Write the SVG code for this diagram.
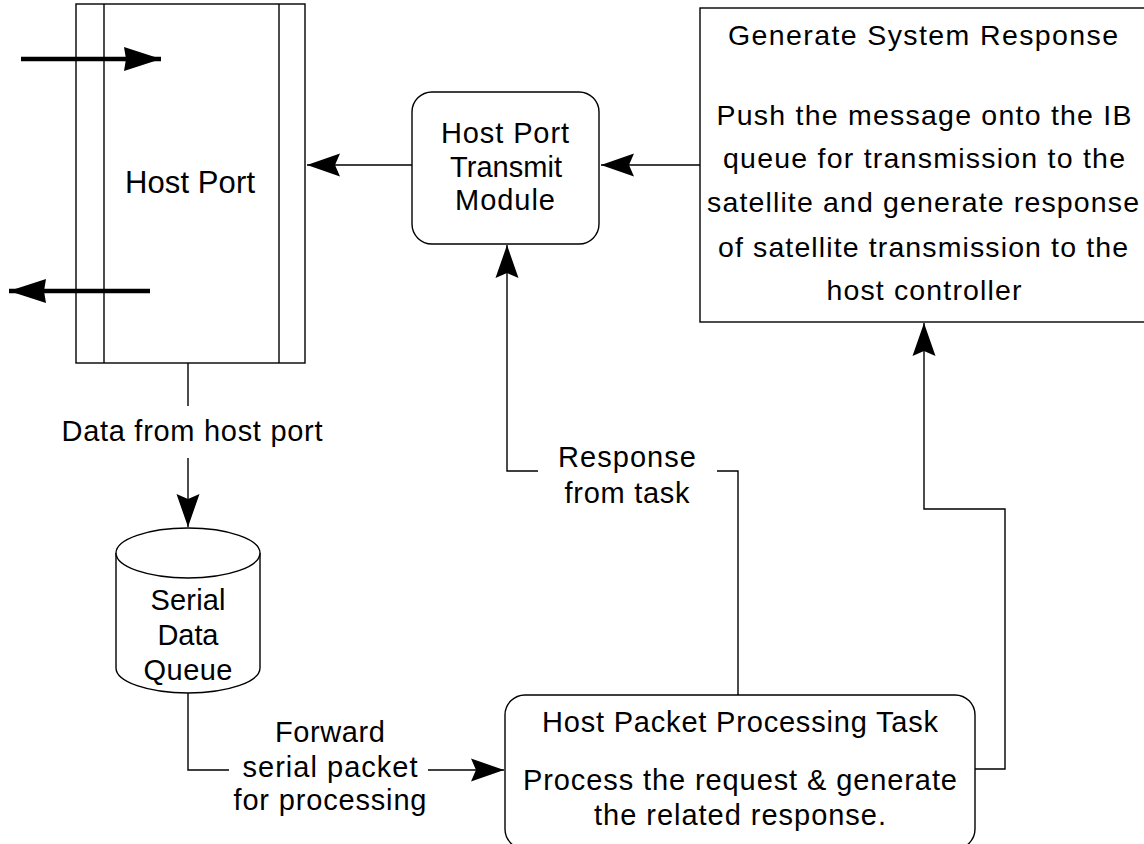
<svg xmlns="http://www.w3.org/2000/svg" width="1144" height="844" viewBox="0 0 1144 844">
  <style>
    .box { fill: #fff; stroke: #000; stroke-width: 1.4; }
    .wire { fill: none; stroke: #000; stroke-width: 1.4; }
    .thick { fill: none; stroke: #000; stroke-width: 4.5; }
    text { font-family: "Liberation Sans", Arial, sans-serif; font-size: 29px; fill: #000; text-anchor: middle; }
    .gsr { font-size: 28.5px; }
    .big { font-size: 31px; }
  </style>
  <defs>
    <marker id="ah" markerUnits="userSpaceOnUse" markerWidth="34" markerHeight="24" viewBox="0 0 34 24" refX="33" refY="12" orient="auto">
      <path d="M33,12 L0,0.5 L5,12 L0,23.5 Z" fill="#000"/>
    </marker>
    <marker id="ahBig" markerUnits="userSpaceOnUse" markerWidth="38" markerHeight="26" viewBox="0 0 38 26" refX="37" refY="13" orient="auto">
      <path d="M37,13 L0,1 L2,13 L0,25 Z" fill="#000"/>
    </marker>
  </defs>
  <rect width="1144" height="844" fill="#fff"/>

  <!-- Host Port -->
  <g id="host-port">
    <rect class="box" x="76" y="4" width="229" height="359"/>
    <line class="wire" x1="104" y1="4" x2="104" y2="363"/>
    <line class="wire" x1="279" y1="4" x2="279" y2="363"/>
    <text class="big" x="190" y="193" textLength="130">Host Port</text>
    <line class="thick" x1="21" y1="59" x2="161" y2="59" marker-end="url(#ahBig)"/>
    <line class="thick" x1="150" y1="291" x2="9" y2="291" marker-end="url(#ahBig)"/>
  </g>

  <!-- Host Port Transmit Module -->
  <g id="transmit-module">
    <rect class="box" x="412" y="92" width="187" height="152" rx="20" ry="20"/>
    <text x="505" y="143" textLength="128">Host Port</text>
    <text x="506" y="177" textLength="112">Transmit</text>
    <text x="505" y="210" textLength="100">Module</text>
  </g>

  <!-- Generate System Response -->
  <g id="generate-response">
    <rect class="box" x="700" y="8" width="460" height="314"/>
    <text class="gsr" x="923" y="45" textLength="390">Generate System Response</text>
    <text class="gsr" x="924" y="125" textLength="415">Push the message onto the IB</text>
    <text class="gsr" x="924" y="168" textLength="402">queue for transmission to the</text>
    <text class="gsr" x="923" y="212" textLength="432">satellite and generate response</text>
    <text class="gsr" x="923" y="257" textLength="410">of satellite transmission to the</text>
    <text class="gsr" x="924" y="300" textLength="195">host controller</text>
  </g>

  <!-- Serial Data Queue -->
  <g id="serial-queue">
    <path class="box" d="M116,553 L116,668 A72,25 0 0 0 260,668 L260,553"/>
    <ellipse class="box" cx="188" cy="553" rx="72" ry="25"/>
    <text x="188" y="610" textLength="75">Serial</text>
    <text x="188" y="645" textLength="61">Data</text>
    <text x="188" y="680" textLength="89">Queue</text>
  </g>

  <!-- Host Packet Processing Task -->
  <g id="processing-task">
    <rect class="box" x="505" y="695" width="470" height="154" rx="20" ry="20"/>
    <text x="740" y="732" textLength="396">Host Packet Processing Task</text>
    <text x="740" y="790" textLength="434">Process the request &amp; generate</text>
    <text x="740" y="825" textLength="292">the related response.</text>
  </g>

  <!-- Connectors -->
  <g id="connectors">
    <line class="wire" x1="412" y1="165" x2="307" y2="165" marker-end="url(#ah)"/>
    <line class="wire" x1="700" y1="165" x2="601" y2="165" marker-end="url(#ah)"/>

    <line class="wire" x1="188" y1="363" x2="188" y2="406"/>
    <text x="192" y="441" textLength="261">Data from host port</text>
    <line class="wire" x1="188" y1="458" x2="188" y2="527" marker-end="url(#ah)"/>

    <polyline class="wire" points="188,693 188,770 229,770"/>
    <text x="330" y="742" textLength="110">Forward</text>
    <text x="330" y="777" textLength="175">serial packet</text>
    <text x="330" y="810" textLength="193">for processing</text>
    <line class="wire" x1="428" y1="770" x2="504" y2="770" marker-end="url(#ah)"/>

    <polyline class="wire" points="738,695 738,471 717,471"/>
    <text x="627" y="467" textLength="138">Response</text>
    <text x="627" y="503" textLength="125">from task</text>
    <polyline class="wire" points="538,471 507,471 507,245" marker-end="url(#ah)"/>

    <polyline class="wire" points="975,769 1005,769 1005,509 924,509 924,323" marker-end="url(#ah)"/>
  </g>
</svg>
